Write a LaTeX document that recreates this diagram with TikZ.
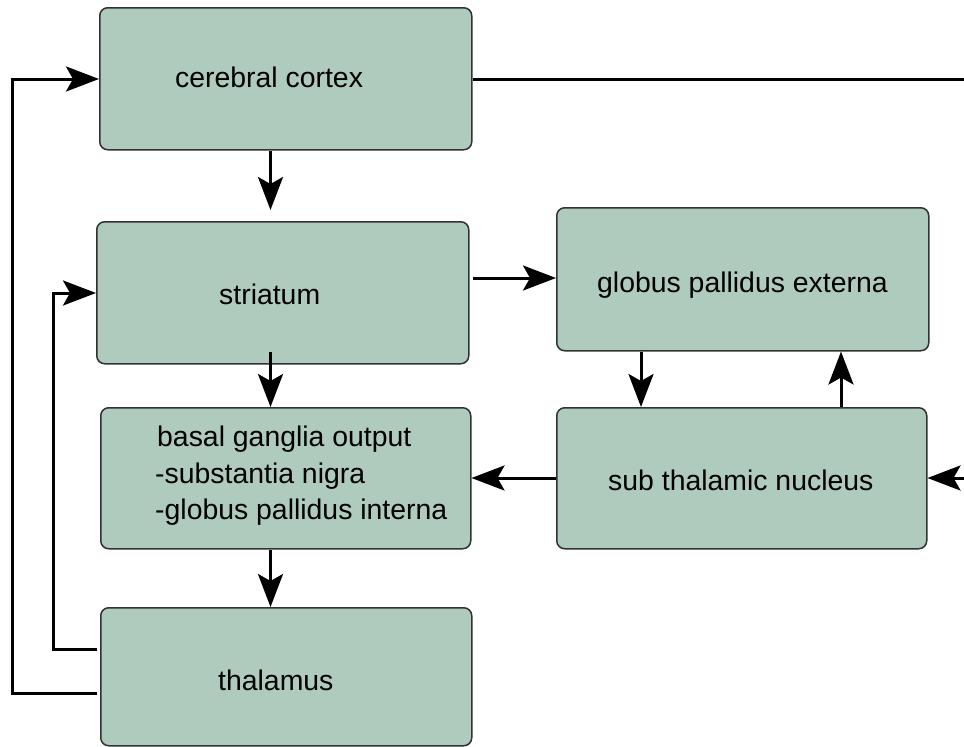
\documentclass[tikz,border=0pt]{standalone}
\usepackage{fontspec}
\setmainfont{Liberation Sans}
\usetikzlibrary{arrows.meta}
\definecolor{boxfill}{RGB}{175,203,190}
\definecolor{boxline}{RGB}{50,50,50}
\begin{document}
\begin{tikzpicture}[x=1pt,y=-1pt,
  box/.style={draw=boxline,line width=1.5pt,fill=boxfill,rounded corners=8pt,
    anchor=north west,inner sep=0pt,minimum width=372pt,minimum height=142pt},
  lbl/.style={anchor=base west,inner sep=0pt,font=\fontsize{28.4}{36.7}\selectfont},
  wire/.style={line width=3pt,black},
  arr/.style={wire,-{Stealth[length=33pt,width=25pt,inset=7pt]}}]
\useasboundingbox (0,0) rectangle (964,747);

% boxes
\node[box] (cortex) at (99,7) {};
\node[box,minimum height=142pt] (striatum) at (96,221) {};
\node[box,minimum height=143pt] (gpe) at (556,207) {};
\node[box,minimum width=370pt,minimum height=141pt] (bgo) at (100,407) {};
\node[box,minimum width=370pt,minimum height=141pt] (stn) at (556,407) {};
\node[box,minimum width=371pt,minimum height=138pt] (thal) at (100,607) {};

% labels
\node[lbl] (tcortex) at (175,87) {cerebral cortex};
\node[lbl] (tstriatum) at (219,304) {striatum};
\node[lbl] (tgpe) at (597,292) {globus pallidus externa};
\node[lbl] (tbgo1) at (157,446) {basal ganglia output};
\node[lbl] (tbgo2) at (155,483) {-substantia nigra};
\node[lbl] (tbgo3) at (155,519) {-globus pallidus interna};
\node[lbl] (tstn) at (608,490) {sub thalamic nucleus};
\node[lbl] (tthal) at (218,690) {thalamus};

% helper positions for the connectors
\coordinate (ax) at (270.5,0);
\coordinate (bx) at (641,0);
\coordinate (cx) at (841,0);
\coordinate (y1) at (0,79);
\coordinate (y2) at (0,278);
\coordinate (y3) at (0,478);
\coordinate (y4) at (0,293);
\coordinate (y5) at (0,649);
\coordinate (y6) at (0,693);
\coordinate (cortexout) at (964,79);
\coordinate (stnin) at (964,478);
\coordinate (outerx) at (12.7,0);
\coordinate (innerx) at (53,0);

% connectors
\draw[wire] (cortex.east |- y1) -- (cortexout);
\draw[arr,shorten >=11pt] (cortex.south -| ax) -- (striatum.north -| ax);
\draw[arr,shorten <=-13pt] (striatum.south -| ax) -- (bgo.north -| ax);
\draw[arr] (bgo.south -| ax) -- (thal.north -| ax);
\draw[arr,shorten <=3pt] (striatum.east |- y2) -- (gpe.west |- y2);
\draw[arr] (gpe.south -| bx) -- (stn.north -| bx);
\draw[arr] (stn.north -| cx) -- (gpe.south -| cx);
\draw[arr] (stn.west |- y3) -- (bgo.east |- y3);
\draw[arr] (stnin) -- (stn.east |- y3);
\draw[arr,shorten <=3pt] (thal.west |- y6) -| (outerx |- y1) -- (cortex.west |- y1);
\draw[arr,shorten <=3pt] (thal.west |- y5) -| (innerx |- y4) -- (striatum.west |- y4);
\end{tikzpicture}
\end{document}
